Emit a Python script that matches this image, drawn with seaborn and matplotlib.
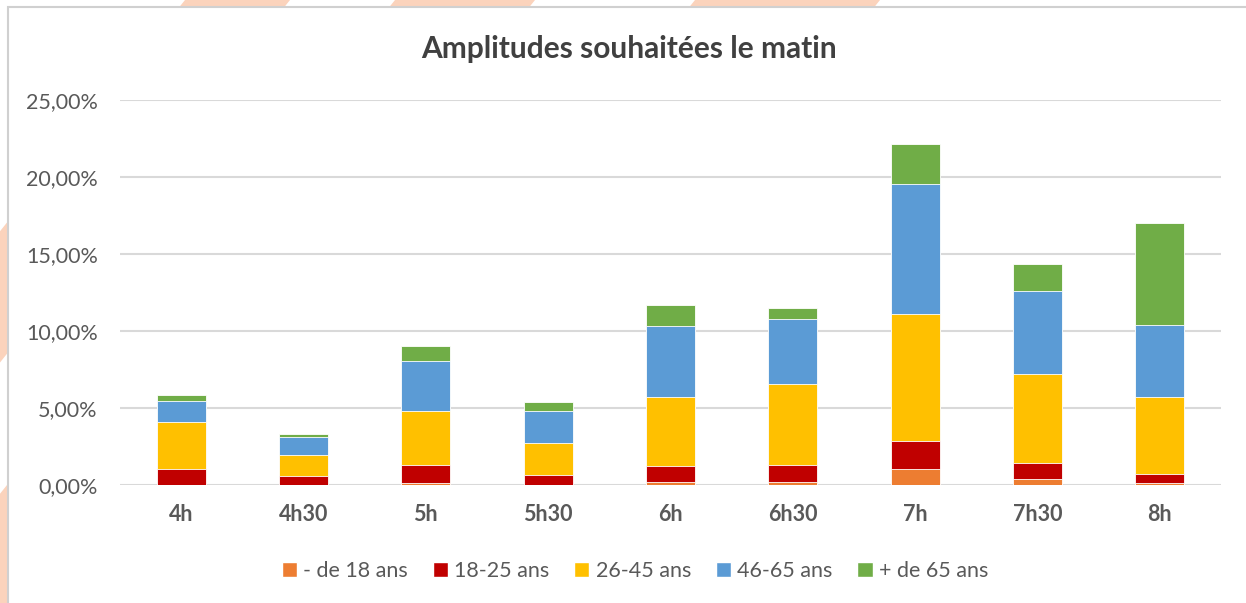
import matplotlib
matplotlib.use("Agg")
import matplotlib.pyplot as plt
from matplotlib.patches import Patch, Polygon, Rectangle
from matplotlib.ticker import FuncFormatter
import pandas as pd
import seaborn as sns

# valeurs (en %)
heures = ["4h", "4h30", "5h", "5h30", "6h", "6h30", "7h", "7h30", "8h"]
moins_18 = [0.00, 0.00, 0.10, 0.00, 0.22, 0.22, 1.04, 0.37, 0.13]
ans_18_25 = [1.04, 0.57, 1.20, 0.65, 1.02, 1.10, 1.79, 1.04, 0.61]
ans_26_45 = [3.02, 1.41, 3.53, 2.09, 4.50, 5.25, 8.26, 5.83, 5.00]
ans_46_65 = [1.42, 1.11, 3.19, 2.09, 4.61, 4.19, 8.46, 5.37, 4.68]
plus_65 = [0.35, 0.24, 0.98, 0.58, 1.33, 0.74, 2.58, 1.74, 6.61]

series = ["- de 18 ans", "18-25 ans", "26-45 ans", "46-65 ans", "+ de 65 ans"]
couleurs = ["#ED7D31", "#C00000", "#FFC000", "#5B9BD5", "#70AD47"]

df = pd.DataFrame({"heure": heures, series[0]: moins_18, series[1]: ans_18_25,
                   series[2]: ans_26_45, series[3]: ans_46_65, series[4]: plus_65})
# cumul pour empiler : on dessine du plus haut au plus bas
cumul = df[series].cumsum(axis=1)

sns.set_theme(style="white")
plt.rcParams["font.family"] = ["Lato", "DejaVu Sans"]

W, H = 1246, 603
fig = plt.figure(figsize=(W / 100, H / 100), dpi=100)

# bandes décoratives orange derrière le cadre
pente = 0.8
for x0, x1 in [(185, 290), (395, 535), (695, 880)]:
    pts = [(x0, 0), (x1, 0), (x1 - pente * H, H), (x0 - pente * H, H)]
    pts = [(px / W, 1 - py / H) for px, py in pts]
    fig.add_artist(Polygon(pts, closed=True, transform=fig.transFigure,
                           facecolor="#FBD3BC", edgecolor="none", zorder=-3))
fig.add_artist(Rectangle((8 / W, -0.1), 1.2, 1.1 - 7 / H, transform=fig.transFigure,
                         facecolor="white", edgecolor="#D0D0D0", linewidth=1.5, zorder=-2))

ax = fig.add_axes([120 / W, 1 - 485 / H, (1221 - 120) / W, (485 - 100) / H])
ax.set_zorder(1)

for i in range(len(series) - 1, -1, -1):
    sns.barplot(x=df["heure"], y=cumul[series[i]], color=couleurs[i], width=0.4,
                edgecolor="white", linewidth=0.6, saturation=1, ax=ax)

ax.set_ylim(0, 25)
ax.set_yticks([0, 5, 10, 15, 20, 25])
ax.yaxis.set_major_formatter(FuncFormatter(lambda v, p: f"{v:.2f}".replace(".", ",") + "%"))
ax.grid(axis="y", color="#D9D9D9", linewidth=1.5)
ax.set_axisbelow(True)
for s in ax.spines.values():
    s.set_visible(False)
ax.set_xlabel("")
ax.set_ylabel("")
ax.tick_params(axis="y", labelsize=15.5, labelcolor="#595959", length=0, pad=16)
ax.tick_params(axis="x", labelsize=15.5, labelcolor="#595959", length=0, pad=14)
for lab in ax.get_xticklabels():
    lab.set_fontweight("bold")

fig.text(629 / W, 1 - 49 / H, "Amplitudes souhaitées le matin", ha="center", va="center",
         fontsize=21.5, fontweight="bold", color="#404040")

handles = [Patch(facecolor=c, label=s) for c, s in zip(couleurs, series)]
fig.legend(handles=handles, loc="center", bbox_to_anchor=(635 / W, 1 - 571 / H), ncol=5,
           frameon=False, fontsize=15.5, handlelength=0.7, handleheight=0.7,
           handletextpad=0.3, columnspacing=1.15, labelcolor="#595959")

fig.savefig("out.png", dpi=100)
